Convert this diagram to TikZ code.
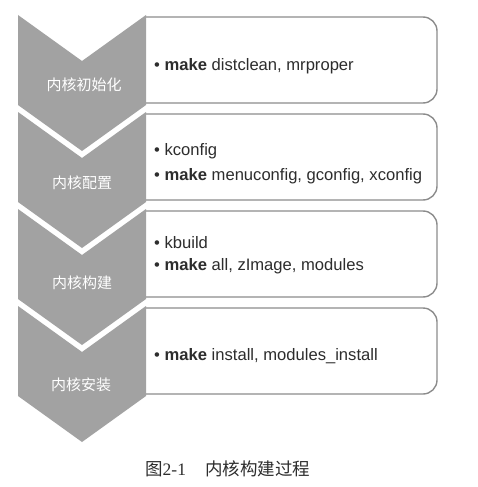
\documentclass[tikz,border=0pt]{standalone}
\usepackage{fontspec}
\setmainfont{Liberation Sans}
\newfontfamily\cjk{Noto Sans CJK SC}
\newfontfamily\serifl{Liberation Serif}
\definecolor{chev}{RGB}{162,162,162}
\definecolor{boxline}{RGB}{140,140,140}
\definecolor{txt}{RGB}{45,45,45}
\begin{document}
\begin{tikzpicture}[x=1pt,y=-1pt,
  chevron/.style={fill=chev,draw=none},
  stagebox/.style={draw=boxline,line width=1.4pt,fill=white,rounded corners=14pt},
  stagelabel/.style={text=white,font=\cjk\fontsize{15}{15}\selectfont,inner sep=0pt},
  item/.style={anchor=base west,text=txt,font=\fontsize{16.6}{16.6}\selectfont,inner sep=0pt},
  caption/.style={anchor=west,text=txt,inner sep=0pt,font=\cjk\fontsize{17.5}{17.5}\selectfont}
]
\useasboundingbox (0,0) rectangle (478,487);
\fill[white] (0,0) rectangle (478,487);
\foreach \k in {0,1,2,3}{
  \pgfmathsetmacro\T{15+97*\k}
  \draw[stagebox] (146,\T+2) -- (437,\T+2) -- (437,\T+88) -- (146,\T+88);
  \fill[chevron] (18,\T) -- (82,\T+46) -- (146,\T) -- (146,\T+90) -- (82,\T+136) -- (18,\T+90) -- cycle;
}
% stage labels
\node[stagelabel] (s1) at (84,85) {内核初始化};
\node[stagelabel] (s2) at (82,183) {内核配置};
\node[stagelabel] (s3) at (82,283) {内核构建};
\node[stagelabel] (s4) at (81,385) {内核安装};
% items
\node[item] (i1) at (154,70.5) {• \textbf{make} distclean, mrproper};
\node[item] (i2) at (154,155) {• kconfig};
\node[item] (i3) at (154,180.5) {• \textbf{make} menuconfig, gconfig, xconfig};
\node[item] (i4) at (154,248) {• kbuild};
\node[item] (i5) at (154,270.5) {• \textbf{make} all, zImage, modules};
\node[item] (i6) at (154,360.5) {• \textbf{make} install, modules\_install};
% caption
\node[caption] (c1) at (145,469) {图{\serifl 2-1}};
\node[caption] (c2) at (205,469) {内核构建过程};
\end{tikzpicture}
\end{document}
